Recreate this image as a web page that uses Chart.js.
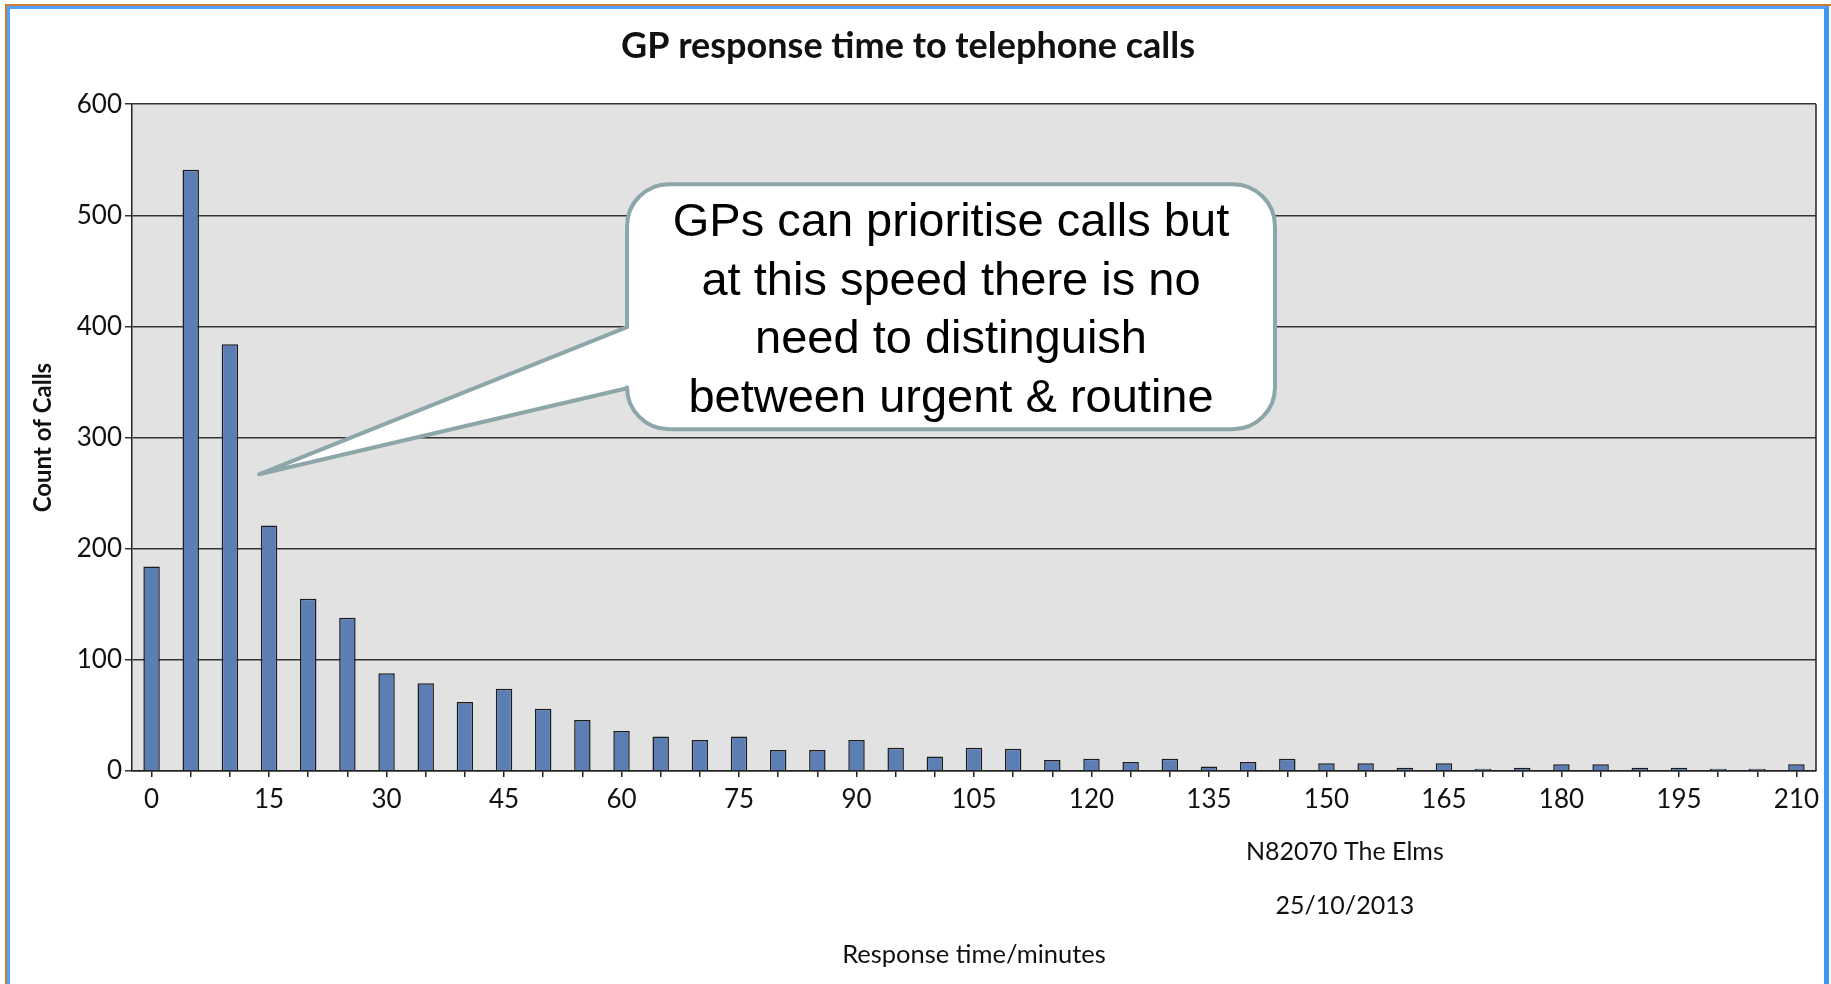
<!DOCTYPE html>
<html>
<head>
<meta charset="utf-8">
<script src="https://cdn.jsdelivr.net/npm/chart.js@4.4.0/dist/chart.umd.min.js"></script>
<style>
  html, body { margin: 0; padding: 0; background: #fff; }
  #wrap { position: relative; width: 1831px; height: 984px; }
  #frame { position: absolute; left: 5px; top: 4px; right: 0; bottom: 0; border-top: 2px solid #cc7a2e; border-left: 2px solid #cc7a2e; pointer-events: none; }
  #frame div { position: absolute; left: 0; top: 0; right: 2px; bottom: 0; border-top: 3px solid #4da3ff; border-left: 3px solid #4da3ff; border-right: 5px solid #3d95f5; }
  #chartBox { position: absolute; left: 0; top: 0; width: 1831px; height: 984px; }
</style>
</head>
<body>
<div id="wrap">
  <div id="chartBox"><canvas id="responseChart"></canvas></div>
  <div id="frame"><div></div></div>
</div>
<script>
// response time bins (minutes)
const responseMinutes = [0, 5, 10, 15, 20, 25, 30, 35, 40, 45, 50, 55, 60, 65, 70, 75, 80, 85, 90, 95, 100,
  105, 110, 115, 120, 125, 130, 135, 140, 145, 150, 155, 160, 165, 170, 175, 180, 185, 190, 195, 200, 205, 210];
// count of calls per bin
const callCounts = [184, 541, 384, 221, 155, 138, 88, 79, 62, 74, 56, 46, 36, 31, 28, 31, 19, 19, 28, 21, 13,
  21, 20, 10, 11, 8, 11, 4, 8, 11, 7, 7, 3, 7, 2, 3, 6, 6, 3, 3, 2, 2, 6];
// labelled x ticks
const xTickLabels = [0, 15, 30, 45, 60, 75, 90, 105, 120, 135, 150, 165, 180, 195, 210];
const yTicks = [0, 100, 200, 300, 400, 500, 600];

const chartTitle = 'GP response time to telephone calls';
const calloutLines = ['GPs can prioritise calls but', 'at this speed there is no', 'need to distinguish', 'between urgent & routine'];
const noteLines = ['N82070 The Elms', '25/10/2013'];

const labelFont = 'Lato, "Open Sans", sans-serif';

// grey plot background + right edge
const plotFrame = {
  id: 'plotFrame',
  beforeDraw(chart) {
    const { ctx, chartArea: a } = chart;
    ctx.save();
    ctx.fillStyle = '#e2e2e2';
    ctx.fillRect(a.left, a.top, a.right - a.left, a.bottom - a.top);
    ctx.restore();
  },
  afterDraw(chart) {
    const { ctx, chartArea: a } = chart;
    ctx.save();
    ctx.strokeStyle = '#222';
    ctx.lineWidth = 1.5;
    ctx.beginPath();
    ctx.moveTo(a.right, a.top);
    ctx.lineTo(a.right, a.bottom);
    ctx.stroke();
    ctx.restore();
  }
};

// speech bubble pointing at the early bars
const callout = {
  id: 'callout',
  afterDatasetsDraw(chart) {
    const { ctx, chartArea: a, scales: { x, y } } = chart;
    const bx = a.left + 495, by = a.top + 80, bw = 648, bh = 245, r = 42;
    const tipX = x.getPixelForValue(3) - 10, tipY = y.getPixelForValue(267);
    const baseTop = by + 143, baseBot = by + 204;
    ctx.save();
    ctx.beginPath();
    ctx.moveTo(bx + r, by);
    ctx.lineTo(bx + bw - r, by);
    ctx.arcTo(bx + bw, by, bx + bw, by + r, r);
    ctx.lineTo(bx + bw, by + bh - r);
    ctx.arcTo(bx + bw, by + bh, bx + bw - r, by + bh, r);
    ctx.lineTo(bx + r, by + bh);
    ctx.arcTo(bx, by + bh, bx, by + bh - r, r);
    ctx.lineTo(bx, baseBot);
    ctx.lineTo(tipX, tipY);
    ctx.lineTo(bx, baseTop);
    ctx.lineTo(bx, by + r);
    ctx.arcTo(bx, by, bx + r, by, r);
    ctx.closePath();
    ctx.fillStyle = '#fff';
    ctx.fill();
    ctx.lineWidth = 4;
    ctx.lineJoin = 'round';
    ctx.strokeStyle = '#8ca6a9';
    ctx.stroke();

    ctx.fillStyle = '#000';
    ctx.font = '47px "Liberation Sans", Arial, sans-serif';
    ctx.textAlign = 'center';
    ctx.textBaseline = 'middle';
    calloutLines.forEach((line, i) => {
      ctx.fillText(line, bx + bw / 2, by + 39 + i * 58.5);
    });
    ctx.restore();
  }
};

// practice name and date under the axis
const notes = {
  id: 'notes',
  afterDraw(chart) {
    const { ctx, chartArea: a, scales: { x } } = chart;
    const cx = x.getPixelForValue(30.47);
    ctx.save();
    ctx.fillStyle = '#111';
    ctx.font = '25px ' + labelFont;
    ctx.textAlign = 'center';
    ctx.textBaseline = 'middle';
    noteLines.forEach((line, i) => {
      ctx.fillText(line, cx, a.bottom + 81 + i * 54);
    });
    ctx.restore();
  }
};

new Chart(document.getElementById('responseChart'), {
  type: 'bar',
  data: {
    labels: responseMinutes.map(m => String(m)),
    datasets: [{
      label: 'Count of Calls',
      data: callCounts,
      backgroundColor: '#5b7fb4',
      borderColor: '#1c1c1c',
      borderWidth: 1.5,
      categoryPercentage: 1,
      barPercentage: 0.42
    }]
  },
  options: {
    responsive: true,
    maintainAspectRatio: false,
    animation: false,
    layout: { padding: { left: 0, right: 15, top: 0, bottom: 0 } },
    plugins: {
      legend: { display: false },
      tooltip: { enabled: false },
      title: {
        display: true,
        text: chartTitle,
        color: '#111',
        font: { family: labelFont, size: 36, weight: 'bold' },
        padding: { top: 25, bottom: 36 }
      }
    },
    scales: {
      x: {
        grid: { drawOnChartArea: false, drawTicks: true, tickLength: 6, offset: false, color: '#222', lineWidth: 1.5 },
        border: { color: '#222', width: 1.5 },
        ticks: {
          autoSkip: false,
          maxRotation: 0,
          padding: 7,
          color: '#111',
          font: { family: labelFont, size: 26 },
          callback: function (value) {
            const m = responseMinutes[value];
            return xTickLabels.includes(m) ? String(m) : '';
          }
        },
        title: {
          display: true,
          text: 'Response time/minutes',
          color: '#111',
          font: { family: labelFont, size: 25.5 },
          padding: { top: 0, bottom: 14 }
        },
        afterFit(scale) { scale.height = 213; }
      },
      y: {
        min: yTicks[0],
        max: yTicks[yTicks.length - 1],
        afterBuildTicks(scale) { scale.ticks = yTicks.map(v => ({ value: v })); },
        grid: { color: '#333', lineWidth: 1.5, tickLength: 7 },
        border: { color: '#222', width: 1.5 },
        ticks: { padding: 3, color: '#111', font: { family: labelFont, size: 26 } },
        title: {
          display: true,
          text: 'Count of Calls',
          color: '#111',
          font: { family: labelFont, size: 24, weight: 'bold' },
          padding: { top: 29, bottom: 0 }
        },
        afterFit(scale) { scale.width = 132; }
      }
    }
  },
  plugins: [plotFrame, callout, notes]
});
</script>
</body>
</html>
